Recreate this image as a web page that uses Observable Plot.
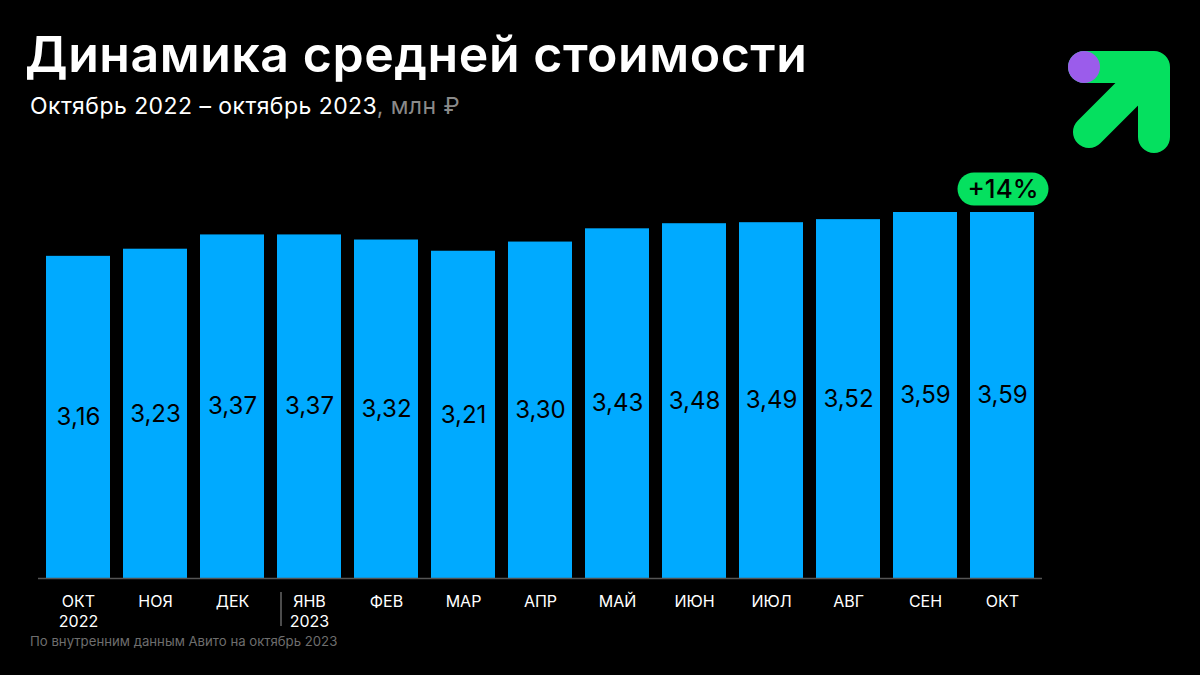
<!DOCTYPE html>
<html>
<head>
<meta charset="utf-8">
<script src="https://cdn.jsdelivr.net/npm/d3@7"></script>
<script src="https://cdn.jsdelivr.net/npm/@observablehq/plot@0.6"></script>
<style>
  html, body { margin: 0; padding: 0; background: #000; }
  #wrap { position: relative; width: 1200px; height: 675px; background: #000; overflow: hidden; font-family: Inter, "Noto Sans", sans-serif; }
  #chart { position: absolute; left: 0; top: 0; }
  #title { position: absolute; left: 25px; top: 29px; color: #fff; font-size: 50px; font-weight: 600; letter-spacing: 0.55px; line-height: 1; white-space: nowrap; }
  #subtitle { position: absolute; left: 30px; top: 95px; color: #fff; font-size: 23px; font-weight: 400; letter-spacing: 0.45px; line-height: 1; white-space: nowrap; }
  #subtitle span { color: #8a8a8a; }
  #note { position: absolute; left: 30px; top: 635px; color: #6e6e6e; font-size: 13.2px; line-height: 1; white-space: nowrap; }
  #logo { position: absolute; left: 0; top: 0; }
</style>
</head>
<body>
<div id="wrap">
  <div id="chart"></div>
  <div id="title">Динамика средней стоимости</div>
  <div id="subtitle">Октябрь 2022 – октябрь 2023<span>, млн ₽</span></div>
  <div id="note">По внутренним данным Авито на октябрь 2023</div>
  <svg id="logo" width="1200" height="180">
    <path d="M1084,67 L1154,67 L1154,137 M1154,67 L1089,132" fill="none" stroke="#05E05F" stroke-width="32" stroke-linecap="round" stroke-linejoin="round"/>
    <circle cx="1084" cy="67" r="16" fill="#9B5CEB"/>
  </svg>
</div>
<script>
const months = ["ОКТ\n2022", "НОЯ", "ДЕК", "ЯНВ\n2023", "ФЕВ", "МАР", "АПР", "МАЙ", "ИЮН", "ИЮЛ", "АВГ", "СЕН", "ОКТ"];
const values = [3.16, 3.23, 3.37, 3.37, 3.32, 3.21, 3.30, 3.43, 3.48, 3.49, 3.52, 3.59, 3.59];
const yearStart = "ЯНВ\n2023";

const data = months.map((m, i) => ({m, v: values[i]}));
const fmt = v => v.toFixed(2).replace(".", ",");
const growth = "+" + Math.round((values[values.length - 1] / values[0] - 1) * 100) + "%";
const lastMonth = months[months.length - 1];
const lastValue = values[values.length - 1];

function bw(scales) {
  const x = scales.x;
  if (x && typeof x.bandwidth === "number") return x.bandwidth;
  if (x && typeof x.bandwidth === "function") return x.bandwidth();
  if (scales.scales && scales.scales.x && scales.scales.x.bandwidth != null) return scales.scales.x.bandwidth;
  return 64;
}

function badge(index, scales, values, dims) {
  const ns = "http://www.w3.org/2000/svg";
  const g = document.createElementNS(ns, "g");
  const cx = scales.x(lastMonth) + bw(scales) / 2;
  const cy = scales.y(lastValue) - 23;
  const w = 91, h = 33;
  const r = document.createElementNS(ns, "rect");
  r.setAttribute("x", cx - w / 2 + 1);
  r.setAttribute("y", cy - h / 2);
  r.setAttribute("width", w);
  r.setAttribute("height", h);
  r.setAttribute("rx", h / 2);
  r.setAttribute("fill", "#05E05F");
  g.appendChild(r);
  const t = document.createElementNS(ns, "text");
  t.setAttribute("x", cx + 1);
  t.setAttribute("y", cy);
  t.setAttribute("dy", "0.36em");
  t.setAttribute("text-anchor", "middle");
  t.setAttribute("font-size", 26);
  t.setAttribute("font-weight", 500);
  t.setAttribute("fill", "#000");
  t.textContent = growth;
  g.appendChild(t);
  return g;
}

function separator(index, scales, values, dims) {
  const ns = "http://www.w3.org/2000/svg";
  const x = scales.x(yearStart) + 4;
  const y0 = dims.height - dims.marginBottom;
  const l = document.createElementNS(ns, "line");
  l.setAttribute("x1", x); l.setAttribute("x2", x);
  l.setAttribute("y1", y0 + 14); l.setAttribute("y2", y0 + 48);
  l.setAttribute("stroke", "#666");
  l.setAttribute("stroke-width", 1.5);
  return l;
}

const chart = Plot.plot({
  width: 1200,
  height: 675,
  marginLeft: 38,
  marginRight: 158,
  marginTop: 212,
  marginBottom: 97,
  style: {background: "transparent", color: "#fff", fontFamily: "Inter, 'Noto Sans', sans-serif"},
  x: {domain: months, paddingInner: 0.17, paddingOuter: 0.09, label: null},
  y: {domain: [0, lastValue], axis: null},
  marks: [
    Plot.barY(data, {x: "m", y: "v", fill: "#00AAFF"}),
    Plot.ruleY([0], {stroke: "#555", strokeWidth: 1.5}),
    Plot.text(data, {x: "m", y: d => d.v / 2, text: d => fmt(d.v), fill: "#000", fontSize: 24}),
    Plot.axisX({tickSize: 0, tickPadding: 14, fontSize: 16, lineHeight: 1.25, fill: "#fff", label: null}),
    separator,
    badge
  ]
});
document.getElementById("chart").appendChild(chart);
</script>
</body>
</html>
